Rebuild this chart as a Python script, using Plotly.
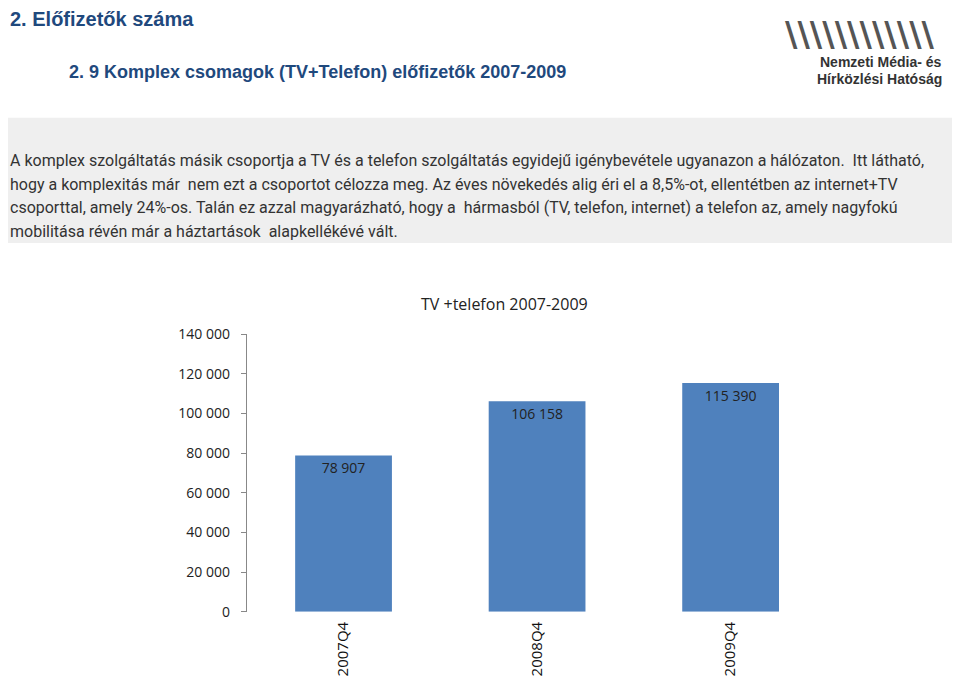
import plotly.graph_objects as go

categories = ["2007Q4", "2008Q4", "2009Q4"]
values = [78907, 106158, 115390]
value_labels = ["78 907", "106 158", "115 390"]
tick_vals = [0, 20000, 40000, 60000, 80000, 100000, 120000, 140000]
tick_text = ["0", "20 000", "40 000", "60 000", "80 000", "100 000", "120 000", "140 000"]

W, H = 960, 679
def px(x): return ((x - 8) / 0.98) / W
def py(y): return 1 - ((y - 18.4) / 0.97) / H

fig = go.Figure(go.Bar(
    x=categories, y=values, text=value_labels, textposition="inside",
    insidetextanchor="end", marker=dict(color="#4F81BD", line=dict(width=0)),
    textfont=dict(color="#222", size=14, family="Open Sans"), width=0.5,
    cliponaxis=False, hoverinfo="skip"))

fig.update_layout(
    width=W, height=H, margin=dict(l=0, r=0, t=0, b=0),
    plot_bgcolor="white", paper_bgcolor="white", showlegend=False,
    font=dict(family="Open Sans", color="#222"),
    xaxis=dict(domain=[px(242), px(811)], showline=False, tickangle=-90,
               tickfont=dict(size=15, color="#111"), ticks="", ticklabelstandoff=6),
    yaxis=dict(domain=[py(611), py(334)], range=[0, 140000], tickvals=tick_vals,
               ticktext=tick_text, showgrid=False, showline=True, linecolor="#888",
               ticks="outside", ticklen=5, tickcolor="#888", zeroline=False,
               ticklabelstandoff=8, tickfont=dict(size=14, color="#222", family="Open Sans")),
)

fig.add_shape(type="rect", xref="paper", yref="paper", x0=0, x1=1, y0=py(243), y1=py(118),
              fillcolor="#EFEFEF", line=dict(width=0), layer="below")

def txt(x, y, s, size, color, bold=False, anchor="left", fam="Liberation Sans"):
    fig.add_annotation(xref="paper", yref="paper", x=px(x), y=py(y), text=("<b>%s</b>" % s) if bold else s,
                       showarrow=False, xanchor=anchor, yanchor="middle",
                       font=dict(size=size, color=color, family=fam))

txt(8, 19, "2. Előfizetők száma", 20, "#1F497D", True)
txt(66, 72, "2. 9 Komplex csomagok (TV+Telefon) előfizetők 2007-2009", 18, "#1F497D", True)
lines = [
    "A komplex szolgáltatás másik csoportja a TV és a telefon szolgáltatás egyidejű igénybevétele ugyanazon a hálózaton.  Itt látható,",
    "hogy a komplexitás már  nem ezt a csoportot célozza meg. Az éves növekedés alig éri el a 8,5%-ot, ellentétben az internet+TV",
    "csoporttal, amely 24%-os. Talán ez azzal magyarázható, hogy a  hármasból (TV, telefon, internet) a telefon az, amely nagyfokú",
    "mobilitása révén már a háztartások  alapkellékévé vált.",
]
for i, l in enumerate(lines):
    txt(8, 161 + i * 23.5, l, 16, "#333", fam="Roboto")

fig.add_annotation(xref="paper", yref="paper", x=px(495), y=py(304), text="TV +telefon 2007-2009",
                   showarrow=False, font=dict(size=16, color="#222", family="Open Sans"))

# logo approximation
fig.add_annotation(xref="paper", yref="paper", x=px(918), y=py(12), text="<b>\\\\\\\\\\\\\\\\\\\\\\\\</b>",
                   showarrow=False, font=dict(size=34, color="#555", family="DejaVu Sans"))
fig.add_annotation(xref="paper", yref="paper", x=px(925), y=py(52), text="<b>Nemzeti Média- és</b>",
                   showarrow=False, font=dict(size=14, color="#333", family="Liberation Sans"))
fig.add_annotation(xref="paper", yref="paper", x=px(925), y=py(69), text="<b>Hírközlési Hatóság</b>",
                   showarrow=False, font=dict(size=14, color="#333", family="Liberation Sans"))

fig.write_html("out.html")
